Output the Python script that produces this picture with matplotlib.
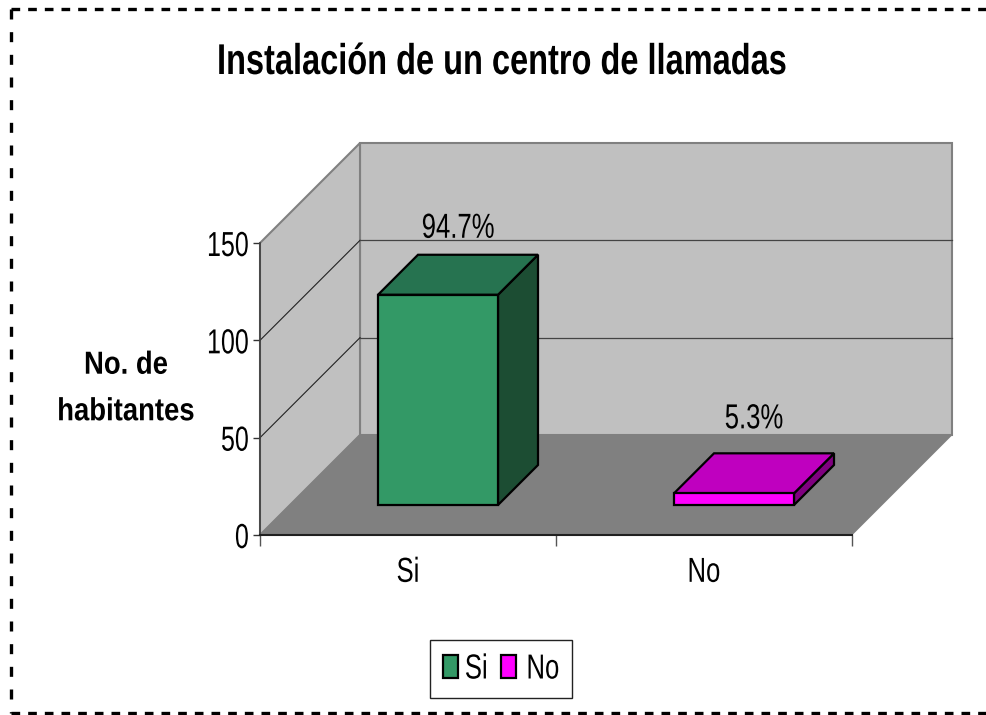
import matplotlib
matplotlib.use('Agg')
import matplotlib.pyplot as plt
from matplotlib.patches import Polygon, Patch
from matplotlib.lines import Line2D
from matplotlib.patheffects import AbstractPathEffect
from matplotlib.transforms import Affine2D

# datos
categorias = ['Si', 'No']
valores = [108, 6]
etiquetas = ['94.7%', '5.3%']
ticks_y = [0, 50, 100, 150]
titulo = 'Instalación de un centro de llamadas'
eje_y = 'No. de\nhabitantes'

col_frente = ['#339966', '#FF00FF']
col_tapa = ['#267350', '#BF00BF']
col_lado = ['#1C4D33', '#800080']

W, H = 986, 715
plt.rcParams['font.family'] = ['Liberation Sans', 'DejaVu Sans']


# el texto del original esta comprimido a lo ancho
class Estrecho(AbstractPathEffect):
    def __init__(self, texto, sx, f=0.5):
        super().__init__()
        self.texto = texto
        self.sx = sx
        self.f = f

    def draw_path(self, renderer, gc, tpath, affine, rgbFace=None):
        bb = self.texto.get_window_extent()
        cx = bb.x0 + self.f * bb.width
        t = affine + Affine2D().translate(-cx, 0).scale(self.sx, 1).translate(cx, 0)
        renderer.draw_path(gc, tpath, t, rgbFace)


def estrechar(texto, sx=0.74, f=0.5):
    texto.set_path_effects([Estrecho(texto, sx, f)])


fig = plt.figure(figsize=(W / 100, H / 100), dpi=100, facecolor='white')
# ejes en pixeles de la imagen: x 260-852, y 243-535
ax = fig.add_axes([260 / W, 1 - 535 / H, 592 / W, 292 / H])
ax.set_xlim(0, 2)
ax.set_ylim(0, 150)
ax.patch.set_visible(False)

# profundidad del grafico 3D, en unidades de los ejes
prof_x = 100 / 296
prof_y = 100 / (292 / 150)
ymax = 150


def poly(pts, color, ec='none', lw=0, z=1):
    ax.add_patch(Polygon(pts, closed=True, facecolor=color, edgecolor=ec, linewidth=lw,
                         clip_on=False, zorder=z, joinstyle='miter'))


def pared(x, y, d=1.0):
    return (x + d * prof_x, y + d * prof_y)


# paredes y piso
poly([pared(0, 0), pared(2, 0), pared(2, ymax), pared(0, ymax)], '#C0C0C0', '#808080', 1.5)
poly([(0, 0), pared(0, 0), pared(0, ymax), (0, ymax)], '#C0C0C0', '#808080', 1.5)
poly([(0, 0), (2, 0), pared(2, 0), pared(0, 0)], '#808080', '#808080', 0.5, z=2)

# lineas de la cuadricula
for t in ticks_y[1:-1]:
    ax.plot([0, prof_x], [t, t + prof_y], color='#222222', lw=0.8, clip_on=False, zorder=1.5)
    ax.plot([prof_x, 2 + prof_x], [t + prof_y, t + prof_y], color='#444444', lw=0.9,
            clip_on=False, zorder=1.5)

# barras
ancho = 120 / 296
d0, d1 = 0.30, 0.70
sep_etiqueta = [10, 18]
for i, v in enumerate(valores):
    x0 = i + 0.5 - ancho / 2
    x1 = i + 0.5 + ancho / 2
    a = pared(x0, 0, d0)
    b = pared(x1, 0, d0)
    c = pared(x1, v, d0)
    e = pared(x0, v, d0)
    f = pared(x1, 0, d1)
    g = pared(x1, v, d1)
    h = pared(x0, v, d1)
    poly([b, f, g, c], col_lado[i], 'black', 1.6, z=3)
    poly([e, c, g, h], col_tapa[i], 'black', 1.6, z=3)
    poly([a, b, c, e], col_frente[i], 'black', 1.6, z=4)
    et = ax.annotate(etiquetas[i], xy=((e[0] + g[0]) / 2, g[1]), xytext=(0, sep_etiqueta[i]),
                     textcoords='offset pixels', ha='center', va='bottom', fontsize=25,
                     color='black', annotation_clip=False, zorder=5)
    estrechar(et)

# ejes
for lado in ['top', 'right']:
    ax.spines[lado].set_visible(False)
ax.spines['left'].set_color('#404040')
ax.spines['left'].set_linewidth(1.2)
ax.spines['bottom'].set_color('#202020')
ax.spines['bottom'].set_linewidth(1.5)
ax.spines['left'].set_zorder(6)
ax.spines['bottom'].set_zorder(6)
ax.set_yticks(ticks_y)
ax.tick_params(axis='y', labelsize=25, length=5, width=1, color='#333333', pad=3)
ax.set_xticks([0, 1, 2])
ax.set_xticklabels([])
ax.tick_params(axis='x', which='major', length=8, width=1, color='#555555')
ax.set_xticks([0.5, 1.5], minor=True)
ax.set_xticklabels(categorias, minor=True, fontsize=25)
ax.tick_params(axis='x', which='minor', length=0, pad=15)
for lab in ax.get_yticklabels():
    estrechar(lab, 0.72, 1.0)
for lab in ax.get_xticklabels(minor=True):
    estrechar(lab)

tt = fig.text(501 / W, 1 - 63 / H, titulo, ha='center', va='center', fontsize=31, fontweight='bold')
estrechar(tt, 0.756)
ty = fig.text(126 / W, 1 - 389 / H, eje_y, ha='center', va='center', fontsize=23, fontweight='bold',
              linespacing=1.72)
estrechar(ty, 0.86)

# leyenda
asas = [Patch(facecolor=col_frente[i], edgecolor='black', linewidth=1.6) for i in range(2)]
ley = fig.legend(asas, categorias, loc='center', bbox_to_anchor=(501 / W, 1 - 669 / H), ncol=2,
                 fontsize=25, frameon=True, fancybox=False, edgecolor='#222222', framealpha=1,
                 handlelength=0.44, handleheight=0.62, handletextpad=-0.03, columnspacing=0.37,
                 borderpad=0.37, borderaxespad=0)
for lab in ley.get_texts():
    estrechar(lab, 0.74, 1.0)

# borde punteado de la figura
x_borde, y_arriba, y_abajo = 11, 9, 713
fig.add_artist(Line2D([x_borde / W, 1], [1 - y_arriba / H] * 2, color='black', lw=2.4,
                      dashes=(2.6, 2.4), transform=fig.transFigure))
fig.add_artist(Line2D([x_borde / W, 1], [1 - y_abajo / H] * 2, color='black', lw=2.4,
                      dashes=(2.6, 2.4), transform=fig.transFigure))
fig.add_artist(Line2D([x_borde / W] * 2, [1 - y_arriba / H, 1 - y_abajo / H], color='black', lw=2.4,
                      dashes=(3.0, 3.8), transform=fig.transFigure))

fig.savefig('out.png', dpi=100)
